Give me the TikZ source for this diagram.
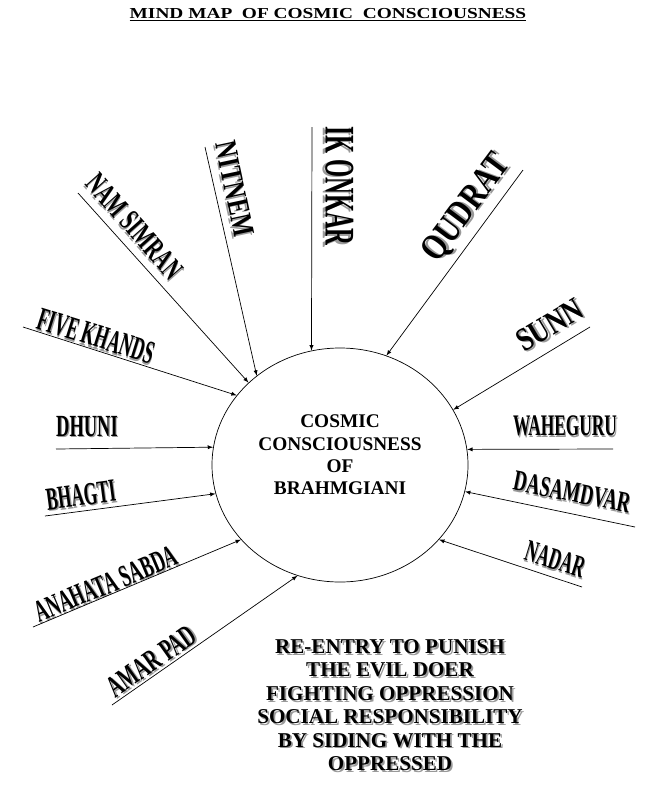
\documentclass[tikz,border=0pt]{standalone}
\usepackage{fontspec}
\setmainfont{Liberation Serif}
\usepackage{tikz}
\usetikzlibrary{shapes.geometric}

\newcommand{\shadowed}[1]{\makebox[0pt][l]{\kern1.5pt\raisebox{-1.5pt}{\color{black!40}#1}}#1}

\tikzset{
  word/.style={font=\bfseries\fontsize{25}{25}\selectfont, inner sep=1pt},
  spoke/.style={-latex, semithick},
}

\begin{document}
\begin{tikzpicture}[x=0.3mm, y=-0.3mm]
    \useasboundingbox (0,0) rectangle (647,791);

    \node[font=\bfseries\fontsize{13}{13}\selectfont, xscale=1.27] (title) at (328,15) {\underline{MIND MAP\ \ OF COSMIC\ \ CONSCIOUSNESS}};

    \node[ellipse, draw, semithick, minimum width=76.8mm, minimum height=70.2mm, inner sep=0pt] (cc) at (340,465) {};
    \node[align=center, font=\bfseries\fontsize{16.5}{19}\selectfont] (cctext) at (340,455) {COSMIC\\CONSCIOUSNESS\\OF\\BRAHMGIANI};

    % left side
    \node[word, rotate=-90, scale=1.44, xscale=.55] (ikonkar) at (338,186) {\shadowed{IK ONKAR}};
    \node[word, rotate=-78, scale=1.05, xscale=.76] (nitnem) at (234,189) {\shadowed{NITNEM}};
    \node[word, rotate=-48.4, scale=1.05, xscale=.63] (namsimran) at (134,227) {\shadowed{NAM SIMRAN}};
    \node[word, rotate=-17.4, scale=1.12, xscale=.53] (fivekhands) at (96,337) {\shadowed{FIVE KHANDS}};
    \node[word, scale=1.05, xscale=.6] (dhuni) at (87,427) {\shadowed{DHUNI}};
    \node[word, rotate=7.5, scale=1.1, xscale=.54] (bhagti) at (81,496) {\shadowed{BHAGTI}};
    \node[word, rotate=22.8, scale=1.05, xscale=.58] (anahata) at (106,585) {\shadowed{ANAHATA SABDA}};
    \node[word, rotate=35.3, scale=1.05, xscale=.62] (amarpad) at (152,662) {\shadowed{AMAR PAD}};

    % right side
    \node[word, rotate=53.2, scale=1.25, xscale=.79] (qudrat) at (468,209) {\shadowed{QUDRAT}};
    \node[word, rotate=31, scale=1.12, xscale=.81] (sunn) at (550,326) {\shadowed{SUNN}};
    \node[word, scale=1.02, xscale=.58] (waheguru) at (565,427) {\shadowed{WAHEGURU}};
    \node[word, rotate=-11.2, scale=1.0, xscale=.63] (dasamdvar) at (572,493) {\shadowed{DASAMDVAR}};
    \node[word, rotate=-17, scale=1.05, xscale=.55] (nadar) at (555,560) {\shadowed{NADAR}};

    \coordinate (ikonkar-end) at (312,127);
    \coordinate (nitnem-end) at (205,147);
    \coordinate (namsimran-end) at (78,193);
    \coordinate (fivekhands-end) at (23,327);
    \coordinate (dhuni-end) at (56,449);
    \coordinate (bhagti-end) at (45,516);
    \coordinate (anahata-end) at (33,627);
    \coordinate (amarpad-end) at (112,705);
    \coordinate (qudrat-end) at (523,170);
    \coordinate (sunn-end) at (590,327);
    \coordinate (waheguru-end) at (613,449);
    \coordinate (dasamdvar-end) at (635,527);
    \coordinate (nadar-end) at (582,587);

    \draw[spoke] (ikonkar-end) -- (cc.104);
    \draw[spoke] (nitnem-end) -- (cc.133);
    \draw[spoke] (namsimran-end) -- (cc.138.5);
    \draw[spoke] (fivekhands-end) -- (cc.146);
    \draw[spoke] (dhuni-end) -- (cc.172.8);
    \draw[spoke] (bhagti-end) -- (cc.193);
    \draw[spoke] (anahata-end) -- (cc.217.5);
    \draw[spoke] (amarpad-end) -- (cc.249.5);
    \draw[spoke] (qudrat-end) -- (cc.67);
    \draw[spoke] (sunn-end) -- (cc.26);
    \draw[spoke] (waheguru-end) -- (cc.7.2);
    \draw[spoke] (dasamdvar-end) -- (cc.-12.7);
    \draw[spoke] (nadar-end) -- (cc.-37.6);

    \node[align=center, font=\bfseries\fontsize{18}{20}\selectfont] (reentry) at (390,706) {\shadowed{RE-ENTRY TO PUNISH}\\\shadowed{THE EVIL DOER}\\\shadowed{FIGHTING OPPRESSION}\\\shadowed{SOCIAL RESPONSIBILITY}\\\shadowed{BY SIDING WITH THE}\\\shadowed{OPPRESSED}};
\end{tikzpicture}
\end{document}
